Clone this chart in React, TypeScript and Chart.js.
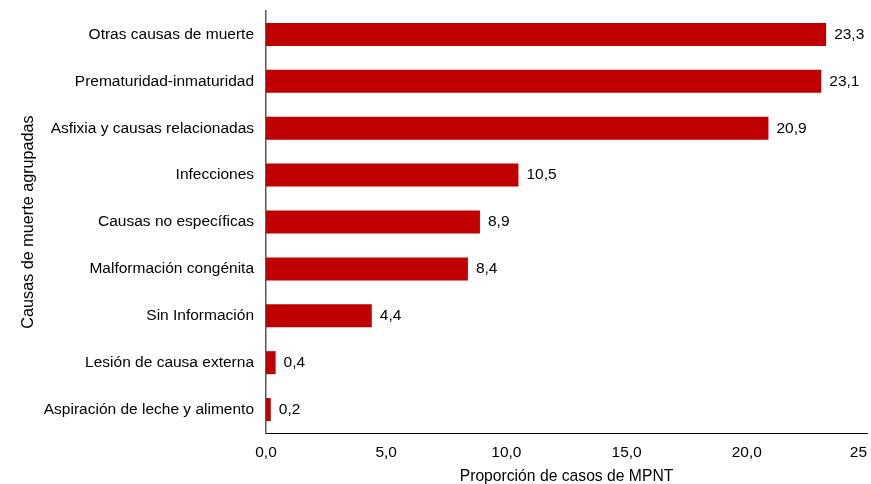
import { useEffect, useRef } from 'react';
import { Chart, registerables } from 'chart.js';

Chart.register(...registerables);

const causes = [
  'Otras causas de muerte',
  'Prematuridad-inmaturidad',
  'Asfixia y causas relacionadas',
  'Infecciones',
  'Causas no específicas',
  'Malformación congénita',
  'Sin Información',
  'Lesión de causa externa',
  'Aspiración de leche y alimento',
];

const shares = [23.3, 23.1, 20.9, 10.5, 8.9, 8.4, 4.4, 0.4, 0.2];

const xTickValues = [0, 5, 10, 15, 20, 25];
const xTickLabels = ['0,0', '5,0', '10,0', '15,0', '20,0', '25'];

const FONT = '"Liberation Sans", Arial, sans-serif';
const TEXT = '#000000';
const BAR = '#C00000';
const LABEL_SIZE = 15.5;

const fmt = (v: number) => v.toFixed(1).replace('.', ',');

// Value labels to the right of each bar
const valueLabels = {
  id: 'valueLabels',
  afterDatasetsDraw(chart: any) {
    const { ctx } = chart;
    const meta = chart.getDatasetMeta(0);
    ctx.save();
    ctx.font = `${LABEL_SIZE}px ${FONT}`;
    ctx.fillStyle = TEXT;
    ctx.textAlign = 'left';
    ctx.textBaseline = 'middle';
    meta.data.forEach((bar: any, i: number) => {
      ctx.fillText(fmt(shares[i]), bar.x + 8, bar.y);
    });
    ctx.restore();
  },
};

// X tick labels: centred, except the last one which sits inside the edge
const xTickText = {
  id: 'xTickText',
  afterDraw(chart: any) {
    const { ctx } = chart;
    const x = chart.scales.x;
    ctx.save();
    ctx.font = `${LABEL_SIZE}px ${FONT}`;
    ctx.fillStyle = TEXT;
    ctx.textBaseline = 'middle';
    xTickValues.forEach((v, i) => {
      const px = x.getPixelForValue(v);
      const last = i === xTickValues.length - 1;
      ctx.textAlign = last ? 'right' : 'center';
      ctx.fillText(xTickLabels[i], px, x.top + 20);
    });
    ctx.restore();
  },
};

export default function App() {
  const ref = useRef<HTMLCanvasElement | null>(null);

  useEffect(() => {
    if (!ref.current) return;
    const chart = new Chart(ref.current, {
      type: 'bar',
      data: {
        labels: causes,
        datasets: [
          {
            data: shares,
            backgroundColor: BAR,
            borderWidth: 0,
            barPercentage: 0.49,
            categoryPercentage: 1,
          },
        ],
      },
      options: {
        indexAxis: 'y',
        animation: false,
        responsive: false,
        maintainAspectRatio: false,
        layout: { padding: { top: 11, right: 4, left: 0, bottom: 0 } },
        plugins: {
          legend: { display: false },
          tooltip: { enabled: false },
        },
        scales: {
          x: {
            min: 0,
            max: 25,
            ticks: { display: false, stepSize: 5 },
            grid: { display: false, drawTicks: false, tickLength: 0 },
            border: { display: true, color: '#000000', width: 1 },
            title: {
              display: true,
              text: 'Proporción de casos de MPNT',
              color: TEXT,
              font: { family: FONT, size: 15.7 },
              padding: { top: 0, bottom: -2 },
            },
            afterFit(scale: any) {
              scale.height = 51;
              scale.paddingRight = 0;
              scale.paddingLeft = 0;
            },
          },
          y: {
            ticks: {
              color: TEXT,
              font: { family: FONT, size: LABEL_SIZE },
              padding: 12,
            },
            grid: { display: false, drawTicks: false, tickLength: 0 },
            border: { display: true, color: '#595959', width: 1.5 },
            title: {
              display: true,
              text: 'Causas de muerte agrupadas',
              color: TEXT,
              font: { family: FONT, size: 16.2 },
              padding: { top: 18.5, bottom: 0 },
            },
            afterFit(scale: any) {
              scale.width = 266;
              scale.paddingTop = 0;
              scale.paddingBottom = 0;
            },
          },
        },
      },
      plugins: [valueLabels, xTickText],
    });
    return () => chart.destroy();
  }, []);

  return (
    <div style={{ position: 'absolute', left: 0, top: 0, width: 871, height: 484 }}>
      <canvas ref={ref} width={871} height={484} style={{ width: 871, height: 484 }} />
    </div>
  );
}
